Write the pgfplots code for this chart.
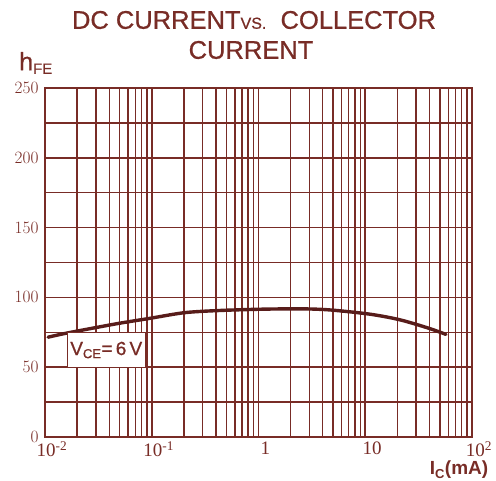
\documentclass[border=0pt]{standalone}
\usepackage{fontspec}
\setmainfont{Liberation Serif}
\setsansfont{Liberation Sans}
\newfontfamily\titlefont{Liberation Sans}[FakeBold=0.8]
\usepackage{pgfplots}
\pgfplotsset{compat=1.18}
\definecolor{brn}{RGB}{120,44,38}
\definecolor{crv}{RGB}{88,28,26}
\begin{document}
\begin{tikzpicture}
\useasboundingbox (-45pt,-44pt) rectangle (451pt,437pt);
\begin{axis}[
  at={(0pt,0pt)}, anchor=south west,
  scale only axis, width=427pt, height=349pt,
  xmode=log, xmin=0.01, xmax=100, ymin=0, ymax=250,
  axis line style={brn, line width=2pt},
  xtick={0.01,0.1,1,10,100},
  xticklabels={10\textsuperscript{-2},10\textsuperscript{-1},1,10,10\textsuperscript{2}},
  minor xtick={0.02,0.03,0.04,0.05,0.06,0.07,0.08,0.09,0.2,0.3,0.4,0.5,0.6,0.7,0.8,0.9,2,3,4,5,6,7,8,9,20,30,40,50,60,70,80,90},
  ytick={0,50,...,250},
  minor ytick={25,75,...,225},
  grid=both,
  major grid style={brn, line width=1.6pt},
  minor grid style={brn, line width=1.4pt},
  major tick length=0pt, minor tick length=0pt,
  tick label style={font=\fontsize{19}{19}\selectfont, text=brn},
  yticklabel style={xshift=-3pt},
  xticklabel style={yshift=-1pt, xshift=7pt},
  every axis plot/.append style={line width=3.4pt},
  clip=false,
]
\addplot[crv, smooth, line join=round, line cap=round] coordinates {
 (0.0107,71.5) (0.015,74) (0.026,77.5) (0.05,81.5) (0.096,85) (0.2,89) (0.4,90.5) (1,91.5) (2.5,91.8) (4.7,91) (11,88) (21,84) (39,78) (57,73.5)
};
\node[draw=brn, line width=1.3pt, fill=white, text=brn, inner xsep=3pt, minimum height=35pt, font=\titlefont\fontsize{19}{19}\selectfont] at (axis cs:0.0375,62.3) {V\textsubscript{\fontsize{13}{13}\selectfont CE}=\,6\,V};
\end{axis}
\node[text=brn, font=\titlefont\fontsize{25.5}{25.5}\selectfont] at (209pt,417pt) {DC CURRENT{\fontsize{16}{16}\selectfont VS.}\ \ COLLECTOR};
\node[text=brn, font=\titlefont\fontsize{25.5}{25.5}\selectfont] at (206pt,387pt) {CURRENT};
\node[text=brn, font=\titlefont\fontsize{25}{25}\selectfont, anchor=west, inner sep=0pt] at (-26pt,374pt) {h\textsubscript{\fontsize{15}{15}\selectfont FE}};
\node[text=brn, font=\sffamily\bfseries\fontsize{19}{19}\selectfont] at (414pt,-33pt) {I\textsubscript{\fontsize{13}{13}\selectfont C}(mA)};
\end{tikzpicture}
\end{document}
